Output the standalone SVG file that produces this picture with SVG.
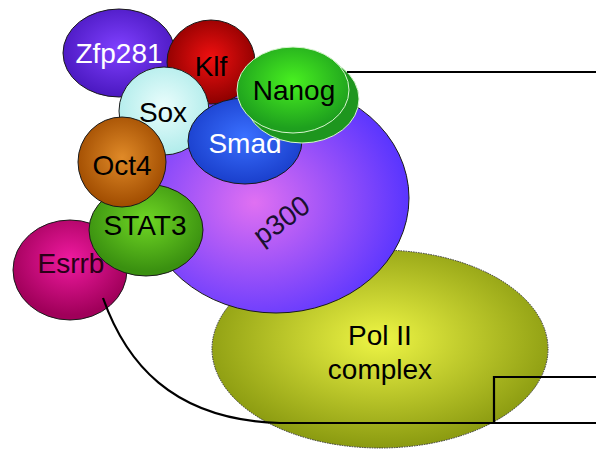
<svg xmlns="http://www.w3.org/2000/svg" width="596" height="450" viewBox="0 0 596 450">
<defs>
<radialGradient id="gPol" cx="50%" cy="45%" r="55%"><stop offset="0" stop-color="#eef545"/><stop offset="1" stop-color="#8a9a10"/></radialGradient>
<radialGradient id="gP300" cx="42%" cy="52%" r="60%"><stop offset="0" stop-color="#e070f2"/><stop offset="1" stop-color="#5533ff"/></radialGradient>
<radialGradient id="gEsrrb" cx="50%" cy="40%" r="55%"><stop offset="0" stop-color="#f01aa0"/><stop offset="1" stop-color="#a0005a"/></radialGradient>
<radialGradient id="gStat" cx="50%" cy="40%" r="55%"><stop offset="0" stop-color="#6fd624"/><stop offset="1" stop-color="#3a9010"/></radialGradient>
<radialGradient id="gZfp" cx="50%" cy="45%" r="55%"><stop offset="0" stop-color="#8040ff"/><stop offset="1" stop-color="#4a18c0"/></radialGradient>
<radialGradient id="gKlf" cx="50%" cy="45%" r="55%"><stop offset="0" stop-color="#f01010"/><stop offset="1" stop-color="#8c0000"/></radialGradient>
<radialGradient id="gSox" cx="50%" cy="45%" r="55%"><stop offset="0" stop-color="#eafdfc"/><stop offset="1" stop-color="#b0eceb"/></radialGradient>
<radialGradient id="gOct" cx="50%" cy="45%" r="55%"><stop offset="0" stop-color="#e08a28"/><stop offset="1" stop-color="#a04c00"/></radialGradient>
<radialGradient id="gSmad" cx="50%" cy="45%" r="55%"><stop offset="0" stop-color="#3a70ff"/><stop offset="1" stop-color="#1a3fcc"/></radialGradient>
<radialGradient id="gNanog" cx="50%" cy="40%" r="55%"><stop offset="0" stop-color="#48f020"/><stop offset="1" stop-color="#1ea01e"/></radialGradient>
<style>
.n{stroke:#1a1a1a;stroke-width:1}
.t{font-family:"Liberation Sans",Arial,sans-serif;font-size:28px;text-anchor:middle;fill:#000}
.w{fill:#fff}
.c{fill:none;stroke:#000;stroke-width:2.2}
</style>
</defs>
<g id="polII">
<ellipse cx="380" cy="349" rx="168" ry="99" fill="url(#gPol)" stroke="#333" stroke-width="1" stroke-dasharray="1.5,1"/>
<text class="t" x="380" y="345">Pol II</text>
<text class="t" x="380" y="379">complex</text>
</g>
<g id="p300">
<ellipse class="n" cx="276" cy="198" rx="133" ry="115" fill="url(#gP300)"/>
<text class="t" x="0" y="0" transform="translate(287,228) rotate(-36)" style="fill:#1a1030">p300</text>
</g>
<g id="esrrb">
<ellipse class="n" cx="70" cy="270" rx="57" ry="50" fill="url(#gEsrrb)"/>
<text class="t" x="71" y="273" style="fill:#2a0018">Esrrb</text>
</g>
<g id="stat3">
<ellipse class="n" cx="146" cy="230" rx="57" ry="46" fill="url(#gStat)"/>
<text class="t" x="145" y="235">STAT3</text>
</g>
<g id="zfp281">
<ellipse class="n" cx="119" cy="53" rx="56" ry="44" fill="url(#gZfp)"/>
<text class="t w" x="119" y="63">Zfp281</text>
</g>
<g id="klf">
<ellipse class="n" cx="211" cy="62" rx="44" ry="42" fill="url(#gKlf)"/>
<text class="t" x="211" y="76">Klf</text>
</g>
<g id="sox">
<ellipse class="n" cx="164" cy="111" rx="45" ry="44" fill="url(#gSox)"/>
<text class="t" x="163" y="122">Sox</text>
</g>
<g id="oct4">
<ellipse class="n" cx="122" cy="162" rx="44" ry="45" fill="url(#gOct)"/>
<text class="t" x="122" y="175">Oct4</text>
</g>
<g id="smad">
<ellipse class="n" cx="245" cy="141" rx="57" ry="43" fill="url(#gSmad)"/>
<text class="t w" x="245" y="153">Smad</text>
</g>
<g id="nanog">
<ellipse cx="302" cy="99" rx="57" ry="44" fill="#1e961e" stroke="#d8f5d0" stroke-width="1"/>
<ellipse cx="293" cy="90" rx="56" ry="43" fill="url(#gNanog)" stroke="#d8f5d0" stroke-width="1"/>
<text class="t" x="294" y="100">Nanog</text>
</g>
<g id="connectors">
<path class="c" d="M347,72 H596"/>
<path class="c" d="M103,298 C125,360 170,420 280,423 H596"/>
<path class="c" d="M494,423 V377 H596"/>
</g>
</svg>
